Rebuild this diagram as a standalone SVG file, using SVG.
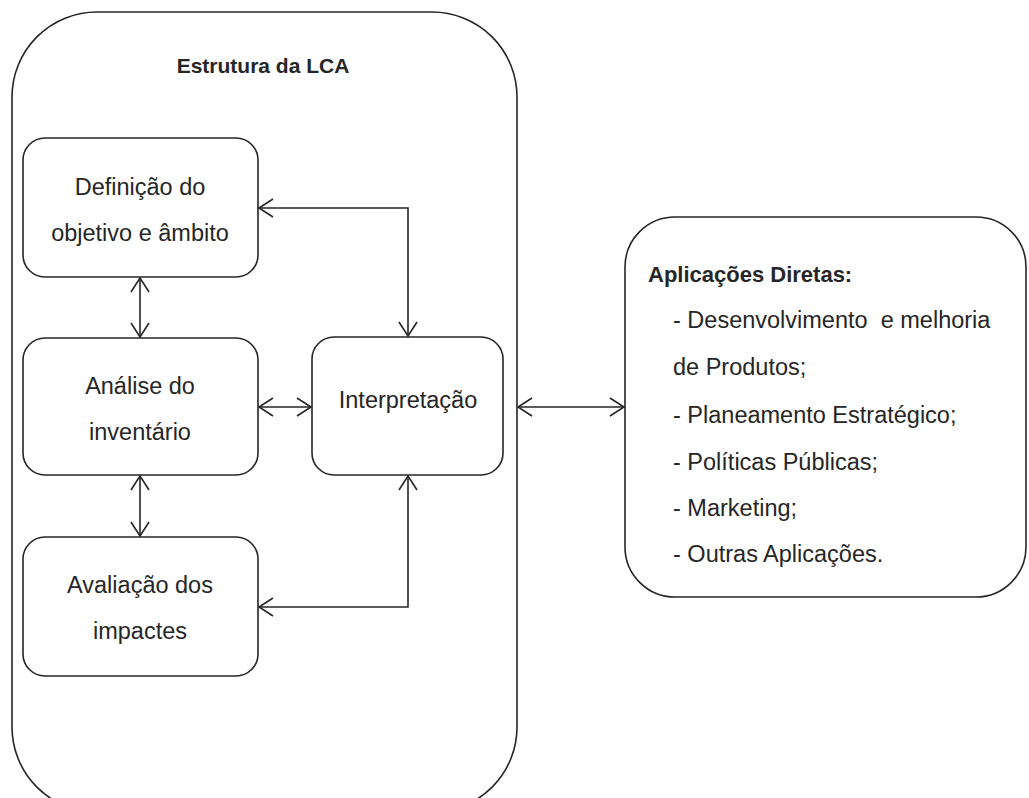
<svg xmlns="http://www.w3.org/2000/svg" width="1029" height="798" viewBox="0 0 1029 798">
<style>
.box{fill:#fff;stroke:#262626;stroke-width:1.6}
.t{font-family:"Liberation Sans",Arial,sans-serif;font-size:23.5px;fill:#262626}
.c{text-anchor:middle}
.b{font-weight:bold}
.title{font-size:21px}
.head{font-size:22px}
.con{fill:none;stroke:#262626;stroke-width:1.6}
</style>
<defs>
<marker id="arr" viewBox="-16 -10 18 20" markerWidth="18" markerHeight="20" refX="0" refY="0" orient="auto-start-reverse" markerUnits="userSpaceOnUse">
<path d="M-14,-9 L0,0 L-14,9" fill="none" stroke="#262626" stroke-width="1.6"/>
</marker>
</defs>
<g id="container">
<rect class="box" x="12" y="12" width="505" height="800" rx="85" ry="85"/>
<text class="t b c title" x="263" y="73">Estrutura da LCA</text>
</g>
<g id="definicao">
<rect class="box" x="23" y="138" width="235" height="139" rx="22"/>
<text class="t c" x="140" y="195">Definição do</text>
<text class="t c" x="140" y="241">objetivo e âmbito</text>
</g>
<g id="analise">
<rect class="box" x="23" y="338" width="235" height="137" rx="22"/>
<text class="t c" x="140" y="394">Análise do</text>
<text class="t c" x="140" y="440">inventário</text>
</g>
<g id="avaliacao">
<rect class="box" x="23" y="537" width="235" height="139" rx="22"/>
<text class="t c" x="140" y="593">Avaliação dos</text>
<text class="t c" x="140" y="639">impactes</text>
</g>
<g id="interpretacao">
<rect class="box" x="312" y="337" width="191" height="138" rx="22"/>
<text class="t c" x="408" y="408">Interpretação</text>
</g>
<g id="aplicacoes">
<rect class="box" x="625" y="217" width="401" height="380" rx="50"/>
<text class="t b head" x="648" y="282">Aplicações Diretas:</text>
<text class="t" x="673" y="328" xml:space="preserve">- Desenvolvimento  e melhoria</text>
<text class="t" x="673" y="375">de Produtos;</text>
<text class="t" x="673" y="423">- Planeamento Estratégico;</text>
<text class="t" x="673" y="470">- Políticas Públicas;</text>
<text class="t" x="673" y="516">- Marketing;</text>
<text class="t" x="673" y="562">- Outras Aplicações.</text>
</g>
<g id="connectors">
<line class="con" x1="140" y1="278" x2="140" y2="337" marker-start="url(#arr)" marker-end="url(#arr)"/>
<line class="con" x1="140" y1="476" x2="140" y2="536" marker-start="url(#arr)" marker-end="url(#arr)"/>
<polyline class="con" points="259,208 408,208 408,336" marker-start="url(#arr)" marker-end="url(#arr)"/>
<polyline class="con" points="259,607 408,607 408,476" marker-start="url(#arr)" marker-end="url(#arr)"/>
<line class="con" x1="259" y1="407" x2="311" y2="407" marker-start="url(#arr)" marker-end="url(#arr)"/>
<line class="con" x1="518" y1="407" x2="624" y2="407" marker-start="url(#arr)" marker-end="url(#arr)"/>
</g>
</svg>
